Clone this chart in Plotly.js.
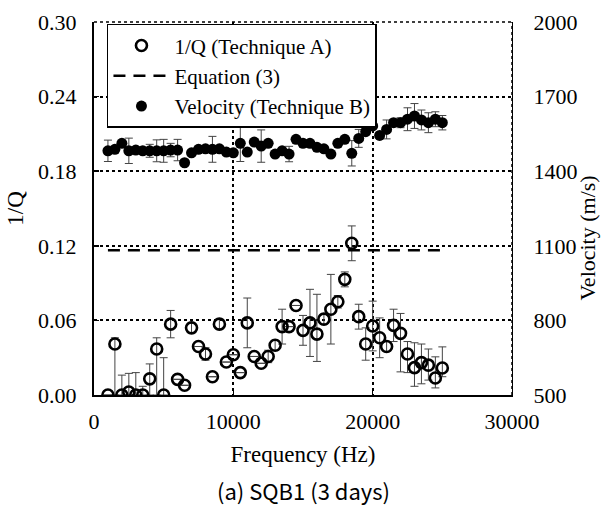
<!DOCTYPE html>
<html>
<head>
<meta charset="utf-8">
<script src="https://cdn.plot.ly/plotly-3.0.1.min.js"></script>
<style>html,body{margin:0;padding:0;background:#fff;}#chart{width:606px;height:506px;}</style>
</head>
<body>
<div id="chart"></div>
<script>
// Frequencies (Hz)
var freq = [1000,1500,2000,2500,3000,3500,4000,4500,5000,5500,6000,6500,7000,7500,8000,8500,9000,9500,10000,10500,11000,11500,12000,12500,13000,13500,14000,14500,15000,15500,16000,16500,17000,17500,18000,18500,19000,19500,20000,20500,21000,21500,22000,22500,23000,23500,24000,24500,25000];

// 1/Q (Technique A)
var invQ = [0,0.041,0,0.0024,0,0,0.013,0.037,0,0.057,0.0126,0.0078,0.054,0.039,0.033,0.0147,0.057,0.0265,0.0324,0.018,0.058,0.031,0.0255,0.031,0.040,0.055,0.055,0.072,0.052,0.058,0.049,0.061,0.069,0.075,0.093,0.122,0.063,0.041,0.0555,0.046,0.039,0.056,0.0496,0.033,0.022,0.026,0.024,0.0137,0.0217];
var invQErrUp = [0,0.005,0.016,0.015,0.018,0.007,0.012,0.009,0.030,0.011,0,0,0.004,0,0.005,0,0.004,0,0,0,0.020,0,0,0.005,0.004,0.014,0,0,0.012,0.027,0.032,0.004,0.028,0.005,0.006,0.014,0.010,0.013,0.020,0.016,0.004,0.013,0.016,0.010,0.020,0.015,0.013,0.017,0.017];
var invQErrDown = [0,0.041,0,0.0024,0,0,0.013,0.037,0,0.011,0,0,0.004,0,0.005,0,0.004,0,0,0,0.020,0,0,0.005,0.004,0.014,0,0,0.012,0.027,0.022,0.004,0.028,0.005,0.006,0.014,0.010,0.013,0.020,0.016,0.004,0.013,0.031,0.015,0.015,0.017,0.012,0.008,0.007];

// Equation (3)
var eqFreq = [1000,25000];
var eqVal = [0.1165,0.1165];

// Velocity (Technique B), m/s
var vel = [1482,1488,1512,1482,1485,1482,1482,1482,1482,1485,1485,1434,1474,1488,1490,1488,1490,1477,1474,1512,1477,1517,1501,1512,1469,1482,1469,1528,1512,1512,1496,1490,1469,1512,1528,1472,1532,1559,1582,1544,1568,1595,1595,1609,1622,1606,1595,1609,1595];
var velErr = [43,0,0,51,0,0,26,44,46,27,43,0,0,0,0,52,0,0,0,73,0,0,65,0,0,0,31,0,0,0,0,0,0,0,0,51,36,0,0,0,38,0,20,46,50,40,40,30,29];

var serif = "Liberation Serif, Times New Roman, serif";

var traces = [
  {
    x: freq, y: invQ, type: 'scatter', mode: 'markers', name: '1/Q (Technique A)',
    marker: {symbol: 'circle-open', size: 11, color: '#000', line: {width: 2.6, color: '#000'}},
    error_y: {type: 'data', symmetric: false, array: invQErrUp, arrayminus: invQErrDown, color: '#444', thickness: 1, width: 4},
    xaxis: 'x', yaxis: 'y', cliponaxis: true
  },
  {
    x: eqFreq, y: eqVal, type: 'scatter', mode: 'lines', name: 'Equation (3)',
    line: {color: '#000', width: 2.5, dash: '12px,8px'},
    xaxis: 'x', yaxis: 'y'
  },
  {
    x: freq, y: vel, type: 'scatter', mode: 'markers', name: 'Velocity (Technique B)',
    marker: {symbol: 'circle', size: 11, color: '#000'},
    error_y: {type: 'data', array: velErr, color: '#444', thickness: 1, width: 4},
    xaxis: 'x', yaxis: 'y2'
  }
];

var layout = {
  width: 606, height: 506,
  margin: {l: 94, r: 94, t: 22, b: 111},
  paper_bgcolor: '#fff', plot_bgcolor: '#fff',
  font: {family: serif, size: 22, color: '#000'},
  showlegend: true,
  legend: {x: 0.031, y: 0.995, xanchor: 'left', yanchor: 'top', bgcolor: '#fff',
           bordercolor: '#000', borderwidth: 1.5, font: {family: serif, size: 21, color: '#000'},
           tracegroupgap: 0, itemwidth: 56},
  xaxis: {
    range: [0, 30000], tickvals: [0, 10000, 20000, 30000], tickformat: 'd',
    showline: true, linecolor: '#000', linewidth: 2, mirror: false,
    ticks: 'inside', ticklen: 5, tickcolor: '#000', tickwidth: 1.5,
    showgrid: true, gridcolor: '#000', griddash: 'dot', gridwidth: 2,
    zeroline: false, ticklabelstandoff: 6,
    tickfont: {family: serif, size: 22, color: '#000'},
    title: {text: 'Frequency (Hz)', font: {family: serif, size: 23, color: '#000'}, standoff: 12}
  },
  yaxis: {
    range: [0, 0.30], tickvals: [0, 0.06, 0.12, 0.18, 0.24, 0.30], tickformat: '.2f',
    showline: true, linecolor: '#000', linewidth: 2,
    ticks: 'inside', ticklen: 5, tickcolor: '#000', tickwidth: 1.5,
    showgrid: true, gridcolor: '#000', griddash: 'dot', gridwidth: 2,
    zeroline: false, ticklabelstandoff: 11,
    tickfont: {family: serif, size: 22, color: '#000'},
    title: {text: '1/Q', font: {family: serif, size: 23, color: '#000'}, standoff: 8}
  },
  yaxis2: {
    range: [500, 2000], tickvals: [500, 800, 1100, 1400, 1700, 2000],
    overlaying: 'y', side: 'right', anchor: 'x',
    showline: true, linecolor: '#000', linewidth: 1, griddash: 'dot',
    ticks: '', showgrid: false, zeroline: false, ticklabelstandoff: 16,
    tickfont: {family: serif, size: 22, color: '#000'}
  },
  annotations: [
    {text: 'Velocity (m/s)', xref: 'paper', yref: 'paper', x: 1.18, y: 0.42,
     xanchor: 'center', yanchor: 'middle', textangle: -90, showarrow: false,
     font: {family: serif, size: 22, color: '#000'}},
    {text: '(a) SQB1 (3 days)', xref: 'paper', yref: 'paper', x: 0.5, y: -0.255,
     xanchor: 'center', yanchor: 'middle', showarrow: false,
     font: {family: "Noto Sans CJK KR, DejaVu Sans, sans-serif", size: 22, color: '#000'}}
  ],
  shapes: [
    {type: 'line', xref: 'paper', yref: 'paper', x0: 0, x1: 1, y0: 1, y1: 1, line: {color: '#000', width: 1.5, dash: 'dot'}},
    {type: 'line', xref: 'paper', yref: 'paper', x0: 1, x1: 1, y0: 0, y1: 1, line: {color: '#000', width: 1.5, dash: 'dot'}}
  ]
};

Plotly.newPlot('chart', traces, layout, {displayModeBar: false, staticPlot: true});
</script>
</body>
</html>
